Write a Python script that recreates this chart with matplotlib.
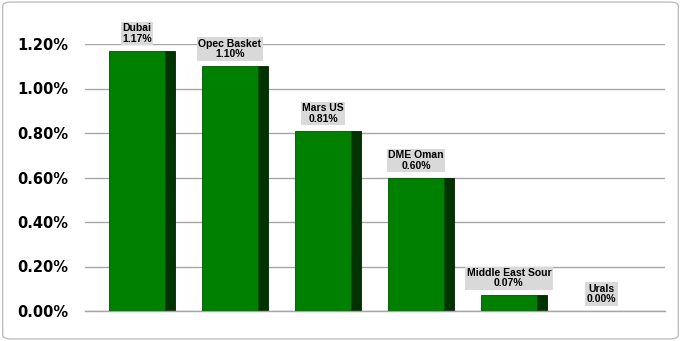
import numpy as np
import matplotlib
matplotlib.use("Agg")
import matplotlib.pyplot as plt
from matplotlib.patches import FancyBboxPatch

# chart data
grades = ["Dubai", "Opec Basket", "Mars US", "DME Oman", "Middle East Sour", "Urals"]
changes = [1.17, 1.10, 0.81, 0.60, 0.07, 0.00]   # percent
tick_vals = [0.0, 0.2, 0.4, 0.6, 0.8, 1.0, 1.2]
tick_labels = ["0.00%", "0.20%", "0.40%", "0.60%", "0.80%", "1.00%", "1.20%"]

front_col = "#008000"
side_col = "#003300"
grid_col = "#a6a6a6"

fig = plt.figure(figsize=(6.81, 3.41), dpi=100)
ax = fig.add_axes([85 / 681, 30 / 341, 580 / 681, 267 / 341])

x = np.arange(len(grades))
w = 0.60      # front face width
depth = 0.108 # side face width

# side face (3d look) then front face
ax.bar(x + w / 2 + depth / 2, changes, width=depth, color=side_col,
       edgecolor="#002200", linewidth=0.6, zorder=2)
ax.bar(x, changes, width=w, color=front_col, edgecolor="#005000",
       linewidth=0.6, zorder=3)

for xi, name, val in zip(x, grades, changes):
    ax.annotate(f"{name}\n{val:.2f}%", xy=(xi, val), xytext=(0, 5),
                textcoords="offset points", ha="center", va="bottom",
                fontsize=7.5, fontweight="bold", family="Liberation Sans",
                linespacing=1.05, annotation_clip=False,
                bbox=dict(boxstyle="square,pad=0.15", facecolor="#d9d9d9",
                          edgecolor="none"), zorder=5)

ax.set_xlim(-0.56, 5.68)
ax.set_ylim(0, 1.2)
ax.set_yticks(tick_vals)
ax.set_yticklabels(tick_labels, fontsize=10.5, fontweight="bold")
ax.set_xticks([])
ax.tick_params(axis="y", length=0, pad=12)
ax.grid(axis="y", color=grid_col, linewidth=1.0, zorder=0)
ax.set_axisbelow(True)
for s in ["top", "right", "left"]:
    ax.spines[s].set_visible(False)
ax.spines["bottom"].set_color(grid_col)
ax.spines["bottom"].set_linewidth(1.0)

# rounded grey border round the whole chart
border = FancyBboxPatch((0.004, 0.006), 0.992, 0.988,
                        boxstyle="round,pad=0,rounding_size=0.012",
                        transform=fig.transFigure, facecolor="none",
                        edgecolor="#bfbfbf", linewidth=1.0)
fig.patches.append(border)

fig.savefig("out.png", dpi=100)
